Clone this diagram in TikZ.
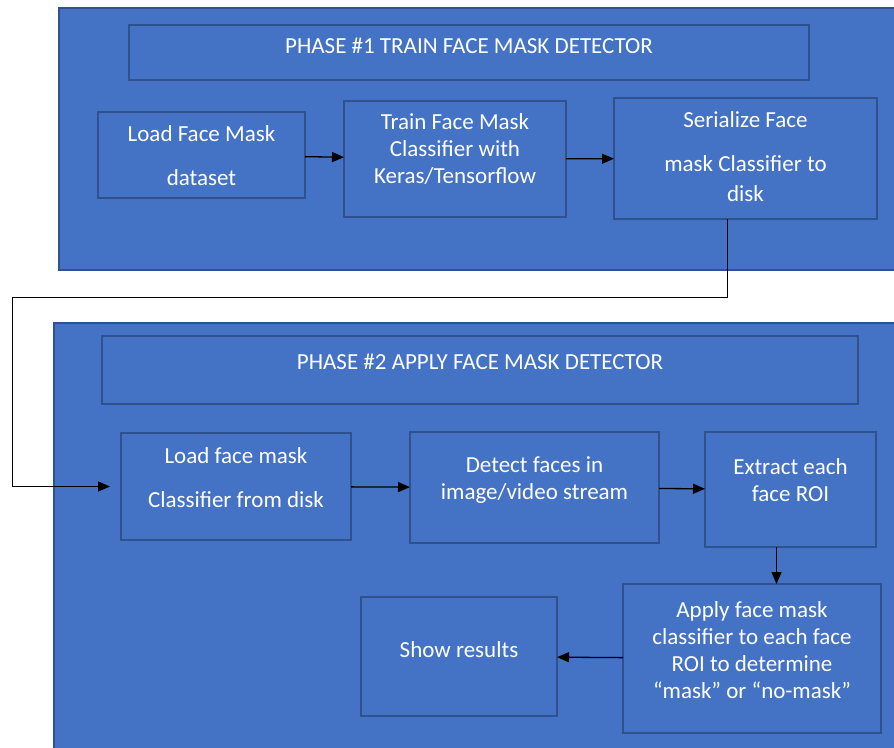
\documentclass[tikz,border=0pt]{standalone}
\usepackage{fontspec}
\setmainfont{Carlito}
\usetikzlibrary{arrows.meta}
\definecolor{wordblue}{HTML}{4472C4}
\definecolor{wordedge}{HTML}{2F528F}
\tikzset{
  panel/.style={draw=wordedge,fill=wordblue,line width=2pt},
  stepbox/.style={draw=wordedge,fill=wordblue,line width=2pt,inner sep=0pt,outer sep=0pt},
  lbl/.style={text=white,align=center,font=\fontsize{23}{27}\selectfont,yshift=7pt},
  arr/.style={-{Triangle[length=12pt,width=10pt]},line width=1.3pt},
}
\begin{document}
\begin{tikzpicture}[x=1pt,y=-1pt]
  \useasboundingbox (0,0) rectangle (894,747);
  % phase 1
  \draw[panel] (59,8) rectangle (896,270);
  \node[stepbox,minimum width=680,minimum height=55,label={[lbl]center:PHASE \#1 TRAIN FACE MASK DETECTOR}] (title1) at (469,52.5) {};
  \node[stepbox,minimum width=207,minimum height=86,label={[lbl,yshift=-8pt]center:Load Face Mask\\[17pt]dataset}] (ld) at (201.5,155) {};
  \node[stepbox,minimum width=222,minimum height=116,label={[lbl,yshift=3pt]center:Train Face Mask\\Classifier with\\Keras/Tensorflow}] (tr) at (455,159) {};
  \node[stepbox,minimum width=263,minimum height=121,label={[lbl,yshift=-5pt]center:Serialize Face\\[17pt]mask Classifier to\\[3pt]disk}] (se) at (745.5,158.5) {};
  % phase 2
  \draw[panel] (54,323) rectangle (896,750);
  \node[stepbox,minimum width=756,minimum height=68,label={[lbl,yshift=1pt]center:PHASE \#2 APPLY FACE MASK DETECTOR}] (title2) at (480,370) {};
  \node[stepbox,minimum width=230,minimum height=107,label={[lbl,yshift=2pt]center:Load face mask\\[17pt]Classifier from disk}] (lc) at (236,486.5) {};
  \node[stepbox,minimum width=249,minimum height=111,label={[lbl]center:Detect faces in\\image/video stream}] (dt) at (534.5,487.5) {};
  \node[stepbox,minimum width=171,minimum height=115,label={[lbl,yshift=2pt]center:Extract each\\face ROI}] (ex) at (790.5,489.5) {};
  \node[stepbox,minimum width=258,minimum height=149,label={[lbl,yshift=1pt]center:Apply face mask\\classifier to each face\\ROI to determine\\``mask'' or ``no-mask''}] (ap) at (752,658.5) {};
  \node[stepbox,minimum width=196,minimum height=119,label={[lbl]center:Show results}] (sh) at (459,656.5) {};
  % connectors
  \coordinate (turn) at (12,297);
  \draw[arr] (ld) -- (tr);
  \draw[arr] (tr) -- (se);
  \draw[arr,line width=0.9pt,shorten >=11pt] ([xshift=-18]se.south) |- (turn) |- (lc.west);
  \draw[arr] (lc) -- (dt);
  \draw[arr] (dt) -- (ex);
  \draw[arr] ([xshift=-14]ex.south) -- ([xshift=-14]ex.south |- ap.north);
  \draw[arr] (ap) -- (sh);
\end{tikzpicture}
\end{document}
